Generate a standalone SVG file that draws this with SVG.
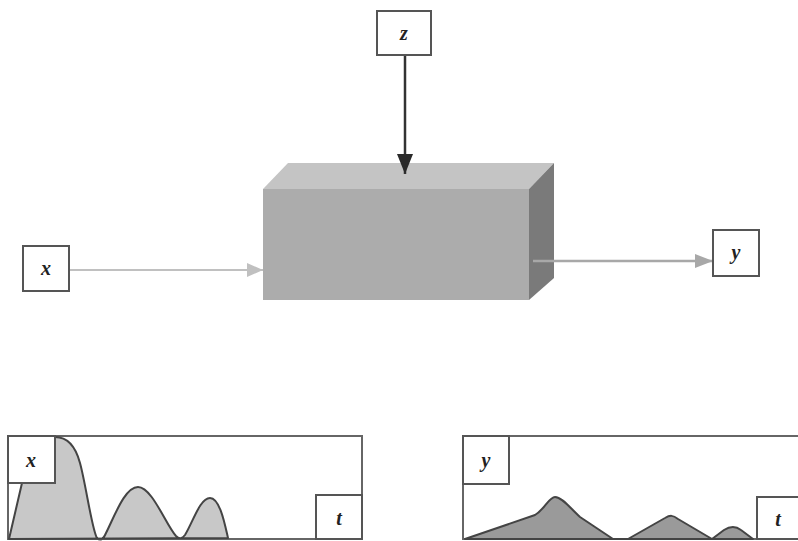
<svg xmlns="http://www.w3.org/2000/svg" width="798" height="541" viewBox="0 0 798 541">
<defs>
<style>
.lbl{fill:#fff;stroke:#555;stroke-width:2}
.t{font-family:"Liberation Serif",serif;font-style:italic;font-weight:bold;font-size:20px;fill:#222;text-anchor:middle}
.frame{fill:#fff;stroke:#666;stroke-width:2}
.curve{stroke:#444;stroke-width:2;stroke-linejoin:round}
</style>
<marker id="ahLight" markerWidth="16" markerHeight="14" refX="16" refY="7" orient="auto" markerUnits="userSpaceOnUse">
<path d="M0,0 L16,7 L0,14 Z" fill="#c0c0c0"/>
</marker>
<marker id="ahGray" markerWidth="18" markerHeight="14" refX="18" refY="7" orient="auto" markerUnits="userSpaceOnUse">
<path d="M0,0 L18,7 L0,14 Z" fill="#a8a8a8"/>
</marker>
<marker id="ahDark" markerWidth="20" markerHeight="16" refX="20" refY="8" orient="auto" markerUnits="userSpaceOnUse">
<path d="M0,0 L20,8 L0,16 Z" fill="#2a2a2a"/>
</marker>
</defs>
<rect width="798" height="541" fill="#fff"/>

<g id="system">
<polygon points="263,189 288,163 554,163 529,189" fill="#c4c4c4"/>
<polygon points="529,189 554,163 554,278 529,300" fill="#7a7a7a"/>
<rect x="263" y="189" width="266" height="111" fill="#acacac"/>
</g>

<g id="connectors">
<line x1="405" y1="55" x2="405" y2="174" stroke="#333" stroke-width="2.5" marker-end="url(#ahDark)"/>
<line x1="69" y1="270" x2="263" y2="270" stroke="#c0c0c0" stroke-width="2" marker-end="url(#ahLight)"/>
<line x1="533" y1="261" x2="713" y2="261" stroke="#a8a8a8" stroke-width="2.5" marker-end="url(#ahGray)"/>
</g>

<g id="z">
<rect class="lbl" x="377" y="11" width="54" height="44"/>
<text class="t" x="404" y="40">z</text>
</g>
<g id="x">
<rect class="lbl" x="23" y="246" width="46" height="45"/>
<text class="t" x="46" y="275">x</text>
</g>
<g id="y">
<rect class="lbl" x="713" y="230" width="46" height="46"/>
<text class="t" x="736" y="259">y</text>
</g>

<g id="chart-x">
<rect class="frame" x="8" y="436" width="354" height="103"/>
<path class="curve" fill="#c8c8c8" d="M9,539 L22,483 L30,437 L55,437 C68,437 76,448 80,463 C86,485 92,530 97,538 C100,541 103,540 106,533 C115,515 125,487 138,487 C152,487 166,525 176,536 C179,539 182,539 185,535 C193,522 200,498 210,498 C220,498 225,525 228,538 Z"/>
<rect class="lbl" x="8" y="436" width="47" height="47"/>
<text class="t" x="31" y="467">x</text>
<rect class="lbl" x="316" y="495" width="46" height="44"/>
<text class="t" x="339" y="525">t</text>
</g>

<g id="chart-y">
<rect class="frame" x="463" y="436" width="345" height="103"/>
<path class="curve" fill="#9a9a9a" d="M465,539 L535,515 C545,509 549,497 555,497 C562,497 570,508 580,517 L613,539 L628,539 L665,518 C670,515 673,515 678,519 L712,539 L724,530 C730,526 736,526 741,530 L753,539 Z"/>
<rect class="lbl" x="463" y="436" width="46" height="48"/>
<text class="t" x="486" y="467">y</text>
<rect class="lbl" x="757" y="497" width="50" height="42"/>
<text class="t" x="778" y="526">t</text>
</g>
</svg>
